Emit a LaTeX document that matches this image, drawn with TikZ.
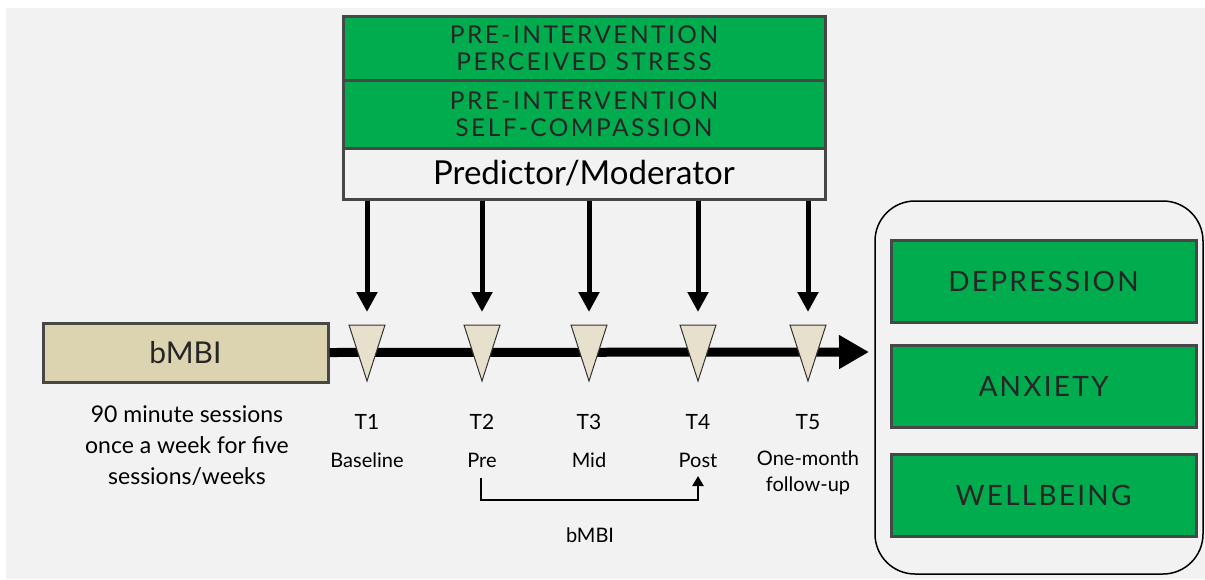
\documentclass[tikz,border=0pt]{standalone}
\usepackage{fontspec}
\setmainfont{Lato}
\usetikzlibrary{arrows.meta}
\definecolor{bg}{HTML}{F2F2F2}
\definecolor{grn}{HTML}{00AC4E}
\definecolor{tanf}{HTML}{DCD3B0}
\definecolor{trif}{HTML}{E6E0CC}
\definecolor{bord}{HTML}{474747}
\definecolor{txt}{HTML}{262626}
\newfontfamily\capsfont[LetterSpace=10]{Lato}
\newfontfamily\outfont[LetterSpace=8]{Lato}
\begin{document}
\begin{tikzpicture}[x=1pt,y=-1pt,
  rowbox/.style={draw=bord, line width=3pt, fill=grn, text=txt, align=center,
    minimum width=482pt, inner sep=0pt, font=\capsfont\fontsize{24.5}{27}\selectfont},
  outbox/.style={draw=bord, line width=3pt, fill=grn, text=txt,
    minimum width=305pt, minimum height=82pt, inner sep=0pt, font=\outfont\fontsize{28}{30}\selectfont},
  downarr/.style={line width=5pt, -{Triangle[length=20pt,width=20pt]}, shorten >=13pt},
  tlab/.style={font=\fontsize{21}{22}\selectfont, inner sep=0pt},
  slab/.style={font=\fontsize{20}{26}\selectfont, inner sep=0pt, align=center},
  trishape/.style={draw=black!80, line width=1pt, fill=trif}
]
\useasboundingbox (0,0) rectangle (1205,579);
\fill[white] (0,0) rectangle (1205,579);
\fill[bg] (6,8) rectangle (1205,579);

% top predictor box
\node[rowbox, minimum height=64pt] (ps) at (584,48) {PRE-INTERVENTION\\PERCEIVED STRESS};
\node[rowbox, minimum height=68pt] (sc) at (584,114) {PRE-INTERVENTION\\SELF-COMPASSION};
\node[rowbox, fill=bg, text=black, minimum height=51pt, font=\fontsize{33}{34}\selectfont] (pm) at (584,173.5) {Predictor/Moderator};

% bMBI box
\node[draw=bord, line width=3pt, fill=tanf, text=txt, minimum width=285pt, minimum height=59pt,
  inner sep=0pt, font=\fontsize{30}{32}\selectfont] (bmbi) at (185.5,352.5) {bMBI};
\node[font=\fontsize{23}{31}\selectfont, align=center, inner sep=0pt] (sess) at (187,446) {90 minute sessions\\once a week for five\\sessions/weeks};

% timeline
\coordinate (tend) at (869,352);
\draw[line width=9pt, -{Triangle[length=30pt,width=32pt]}] (bmbi.east) -- (tend);

% time points
\foreach \n/\x in {t1/367,t2/482,t3/589,t4/698,t5/808}{
  \coordinate (\n) at (\x,325);
  \draw[trishape] (\x-18,325) -- (\x+18,325) -- (\x,381) -- cycle;
  \draw[downarr] (pm.south -| \n) -- (\n);
}

\node[tlab] (l1) at (367,422) {T1};
\node[tlab] (l2) at (482,422) {T2};
\node[tlab] (l3) at (589,422) {T3};
\node[tlab] (l4) at (698,422) {T4};
\node[tlab] (l5) at (808,422) {T5};
\node[slab] (b1) at (367,460) {Baseline};
\node[slab] (b2) at (482,460) {Pre};
\node[slab] (b3) at (589,460) {Mid};
\node[slab] (b4) at (698,460) {Post};
\node[slab] (b5) at (808,473) {One-month\\follow-up};

% bracket
\coordinate (bs) at (481,478);
\coordinate (be) at (698,476);
\draw[line width=2.5pt, -{Triangle[length=10pt,width=11pt]}] (bs) -- (481,500) -- (698,500) -- (be);
\node[slab] (bl) at (590,535) {bMBI};

% outcomes
\draw[line width=1.5pt, rounded corners=40pt] (875,201) rectangle (1203,574);
\node[outbox] (dep) at (1043.5,281.5) {DEPRESSION};
\node[outbox] (anx) at (1043.5,386) {ANXIETY};
\node[outbox] (wel) at (1043.5,495.5) {WELLBEING};
\end{tikzpicture}
\end{document}
